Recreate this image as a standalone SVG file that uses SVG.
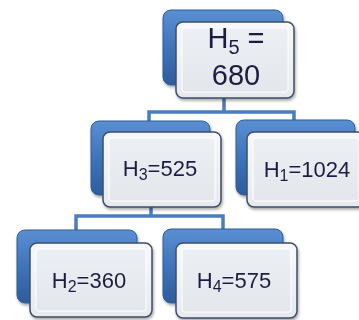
<svg xmlns="http://www.w3.org/2000/svg" width="359" height="320" viewBox="0 0 359 320">
<defs>
<linearGradient id="gBlue" x1="0" y1="0" x2="0" y2="1">
<stop offset="0" stop-color="#5a8fd2"/>
<stop offset="0.5" stop-color="#3f74bb"/>
<stop offset="1" stop-color="#2d5c9c"/>
</linearGradient>
<linearGradient id="gFront" x1="0" y1="0" x2="0" y2="1">
<stop offset="0" stop-color="#f7f8fa"/>
<stop offset="1" stop-color="#e6e9ee"/>
</linearGradient>
<linearGradient id="gInner" x1="0" y1="0" x2="0" y2="1">
<stop offset="0" stop-color="#eceff3"/>
<stop offset="1" stop-color="#e3e6eb"/>
</linearGradient>
<filter id="sh" x="-20%" y="-20%" width="140%" height="140%">
<feGaussianBlur in="SourceAlpha" stdDeviation="1.5"/>
<feOffset dx="1" dy="2" result="b"/>
<feComponentTransfer><feFuncA type="linear" slope="0.35"/></feComponentTransfer>
<feMerge><feMergeNode/><feMergeNode in="SourceGraphic"/></feMerge>
</filter>
</defs>
<style>
.back{fill:url(#gBlue);stroke:#2f5d98;stroke-width:1}
.front{fill:url(#gFront);stroke:#3e4e66;stroke-width:1.5}
.inner{fill:url(#gInner);stroke:#ffffff;stroke-width:1}
.lbl{font-family:"Liberation Sans","Open Sans",sans-serif;fill:#1e1f40;text-anchor:middle}
.big{font-size:29px}
.small{font-size:22px}
.conn{fill:none;stroke:#4a7cc0;stroke-width:3.5;stroke-linejoin:miter}
</style>
<g id="connectors">
<path class="conn" d="M224,98 V112 M149,124 V112 H294 V122"/>
<path class="conn" d="M151,207 V216 M76,231 V216 H223 V230"/>
</g>
<g id="H5" filter="url(#sh)">
<rect class="back" x="163" y="10" width="120" height="75" rx="8"/>
<rect class="front" x="176" y="22" width="118" height="76" rx="7"/>
<rect class="inner" x="182" y="28" width="106" height="64" rx="3"/>
<text class="lbl big" x="236" y="48">H<tspan font-size="20" dy="6">5</tspan><tspan dy="-6"> =</tspan></text>
<text class="lbl big" x="236" y="85">680</text>
</g>
<g id="H3" filter="url(#sh)">
<rect class="back" x="91" y="121" width="119" height="74" rx="8"/>
<rect class="front" x="103" y="132" width="118" height="75" rx="7"/>
<rect class="inner" x="109" y="138" width="106" height="63" rx="3"/>
<text class="lbl small" x="160" y="176">H<tspan font-size="16" dy="4">3</tspan><tspan dy="-4">=525</tspan></text>
</g>
<g id="H1" filter="url(#sh)">
<rect class="back" x="236" y="120" width="119" height="75" rx="8"/>
<rect class="front" x="247" y="132" width="118" height="75" rx="7"/>
<rect class="inner" x="253" y="138" width="106" height="63" rx="3"/>
<text class="lbl small" x="307" y="177">H<tspan font-size="16" dy="4">1</tspan><tspan dy="-4">=1024</tspan></text>
</g>
<g id="H2" filter="url(#sh)">
<rect class="back" x="17" y="230" width="120" height="73" rx="8"/>
<rect class="front" x="30" y="243" width="122" height="74" rx="7"/>
<rect class="inner" x="36" y="249" width="110" height="62" rx="3"/>
<text class="lbl small" x="89" y="288">H<tspan font-size="16" dy="4">2</tspan><tspan dy="-4">=360</tspan></text>
</g>
<g id="H4" filter="url(#sh)">
<rect class="back" x="163" y="229" width="120" height="74" rx="8"/>
<rect class="front" x="176" y="243" width="121" height="75" rx="7"/>
<rect class="inner" x="182" y="249" width="109" height="63" rx="3"/>
<text class="lbl small" x="234" y="288">H<tspan font-size="16" dy="4">4</tspan><tspan dy="-4">=575</tspan></text>
</g>
</svg>
